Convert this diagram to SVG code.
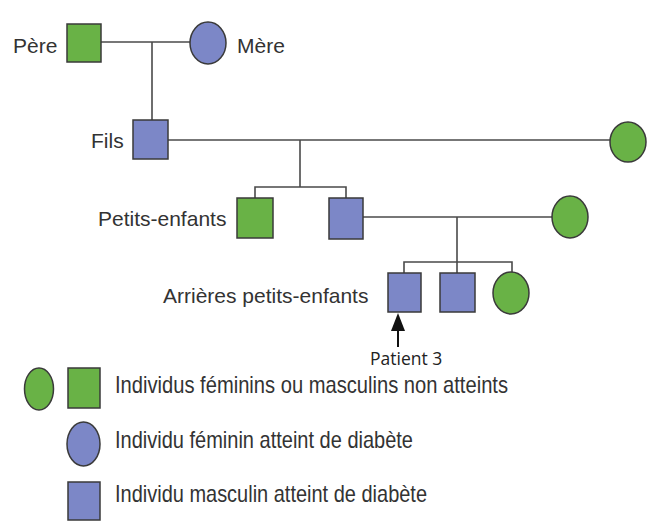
<svg xmlns="http://www.w3.org/2000/svg" width="652" height="530" viewBox="0 0 652 530">
<style>
.g{fill:#69b246;stroke:#3a3a3a;stroke-width:1.5}
.b{fill:#7c87c7;stroke:#3a3a3a;stroke-width:1.5}
.ln{fill:none;stroke:#4a4a4a;stroke-width:1.6}
.t{font-family:"Liberation Sans",Arial,sans-serif;font-size:21px;fill:#333}
.l{font-family:"Liberation Sans",Arial,sans-serif;font-size:24px;fill:#333}
.p{font-family:"Open Sans","Noto Sans",sans-serif;font-size:17.5px;fill:#222}
</style>
<rect width="652" height="530" fill="#fff"/>
<g id="connectors" class="ln">
<line x1="101" y1="42" x2="190" y2="42"/>
<line x1="152" y1="42" x2="152" y2="120"/>
<line x1="168" y1="140" x2="610" y2="140"/>
<line x1="300" y1="140" x2="300" y2="187"/>
<polyline points="255,198 255,187 346,187 346,198"/>
<line x1="363" y1="217" x2="552" y2="217"/>
<line x1="457" y1="217" x2="457" y2="273"/>
<polyline points="404,273 404,262 512,262 512,272"/>
<line x1="398" y1="347" x2="398" y2="330" stroke="#111" stroke-width="2"/>
<polygon points="398,313 391,331 405,331" fill="#111" stroke="none"/>
</g>
<g id="pere"><rect class="g" x="67" y="24" width="34" height="38"/><text class="t" x="13" y="53">Père</text></g>
<g id="mere"><ellipse class="b" cx="208" cy="43" rx="18" ry="21"/><text class="t" x="237" y="53">Mère</text></g>
<g id="fils"><rect class="b" x="133" y="120" width="35" height="39"/><text class="t" x="91" y="148">Fils</text></g>
<g id="epouse-fils"><ellipse class="g" cx="628" cy="142" rx="18" ry="20"/></g>
<g id="petit-enfant-1"><rect class="g" x="237" y="198" width="36" height="40"/><text class="t" x="98" y="226">Petits-enfants</text></g>
<g id="petit-enfant-2"><rect class="b" x="329" y="198" width="34" height="41"/></g>
<g id="epouse-pe"><ellipse class="g" cx="570" cy="217" rx="18" ry="21"/></g>
<g id="ape-1"><rect class="b" x="388" y="273" width="33" height="39"/><text class="t" x="163" y="303">Arrières petits-enfants</text></g>
<g id="ape-2"><rect class="b" x="440" y="273" width="35" height="39"/></g>
<g id="ape-3"><ellipse class="g" cx="511" cy="293" rx="18" ry="21"/></g>
<g id="patient"><text class="p" x="370" y="365">Patient 3</text></g>
<g id="legende">
<ellipse class="g" cx="39" cy="389" rx="14.5" ry="21"/>
<rect class="g" x="68" y="368" width="32" height="40"/>
<text class="l" x="115" y="393" textLength="393" lengthAdjust="spacingAndGlyphs">Individus féminins ou masculins non atteints</text>
<ellipse class="b" cx="83.5" cy="444" rx="16.5" ry="22"/>
<text class="l" x="115" y="448" textLength="298" lengthAdjust="spacingAndGlyphs">Individu féminin atteint de diabète</text>
<rect class="b" x="68" y="482" width="32" height="38"/>
<text class="l" x="115" y="502" textLength="312" lengthAdjust="spacingAndGlyphs">Individu masculin atteint de diabète</text>
</g>
</svg>
